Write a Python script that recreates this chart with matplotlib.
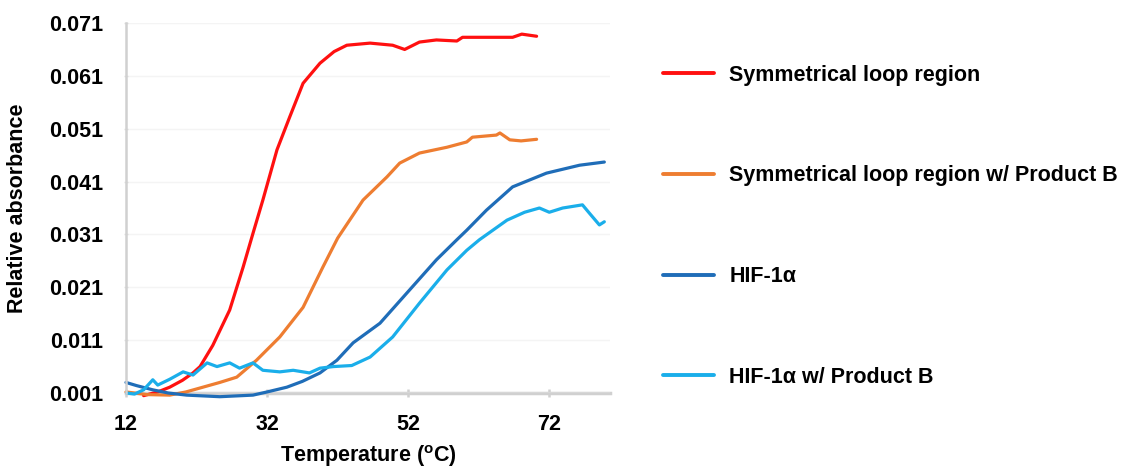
import matplotlib.pyplot as plt

plt.rcParams['font.family'] = ['Liberation Sans', 'DejaVu Sans']

# data
x_red = [14.5, 16.5, 18.2, 20.0, 21.5, 22.5, 24.3, 26.7, 28.6, 30.0, 31.4, 33.4, 35.2, 37.1,
         39.5, 41.5, 43.3, 46.6, 49.8, 51.5, 53.6, 56.0, 58.9, 59.7, 63.1, 66.8, 68.1, 70.2]
y_red = [0.0005, 0.0012, 0.0021, 0.0034, 0.0048, 0.0060, 0.0100, 0.0167, 0.0248, 0.0312,
         0.0375, 0.0470, 0.0532, 0.0596, 0.0634, 0.0656, 0.0668, 0.0672, 0.0668, 0.0660,
         0.0674, 0.0678, 0.0676, 0.0683, 0.0683, 0.0683, 0.0689, 0.0685]

x_orange = [12.0, 15.0, 18.2, 20.5, 22.9, 25.3, 27.7, 30.5, 33.8, 37.1, 39.9, 42.0,
            45.6, 49.0, 50.8, 53.6, 57.5, 60.3, 61.1, 64.5, 65.0, 66.4, 68.0, 70.2]
y_orange = [0.0012, 0.0007, 0.0006, 0.0012, 0.0021, 0.0030, 0.0040, 0.0072, 0.0116, 0.0172,
            0.0248, 0.0303, 0.0375, 0.0419, 0.0445, 0.0464, 0.0475, 0.0485, 0.0494, 0.0498,
            0.0502, 0.0489, 0.0487, 0.0490]

x_dblue = [12.0, 13.5, 15.8, 18.0, 20.6, 25.3, 30.0, 32.0, 34.8, 37.0, 39.5, 41.9,
           44.2, 48.0, 52.2, 56.0, 58.9, 60.3, 63.1, 66.8, 71.6, 76.3, 79.8]
y_dblue = [0.0030, 0.0024, 0.0016, 0.0010, 0.0006, 0.0003, 0.0006, 0.0012, 0.0021, 0.0032,
           0.0048, 0.0072, 0.0105, 0.0142, 0.0205, 0.0262, 0.0300, 0.0318, 0.0356, 0.0400,
           0.0426, 0.0441, 0.0447]

x_lblue = [12.1, 13.2, 14.5, 15.8, 16.5, 18.2, 20.1, 21.5, 23.5, 24.9, 26.7, 28.1, 30.0,
           31.4, 33.8, 35.7, 38.0, 39.5, 41.4, 44.0, 46.6, 49.8, 53.6, 57.5, 60.3, 62.1,
           64.0, 66.0, 68.5, 70.6, 72.0, 73.9, 76.7, 77.7, 79.1, 79.8]
y_lblue = [0.0010, 0.0008, 0.0016, 0.0035, 0.0025, 0.0036, 0.0050, 0.0044, 0.0067, 0.0060,
           0.0067, 0.0057, 0.0067, 0.0053, 0.0050, 0.0053, 0.0048, 0.0057, 0.0060, 0.0062,
           0.0078, 0.0116, 0.0180, 0.0243, 0.0280, 0.0300, 0.0318, 0.0337, 0.0352, 0.0360,
           0.0352, 0.0360, 0.0366, 0.0350, 0.0328, 0.0334]

labels = ['Symmetrical loop region', 'Symmetrical loop region w/ Product B',
          'HIF-1α', 'HIF-1α w/ Product B']
colors = ['#FF1010', '#EE7D31', '#1F6DB8', '#1AAEEA']
xticks = [12, 32, 52, 72]
yticks = [0.001, 0.011, 0.021, 0.031, 0.041, 0.051, 0.061, 0.071]

fig = plt.figure(figsize=(11.38, 4.71), dpi=100)
ax = fig.add_axes([0.1107, 0.1656, 0.4253, 0.7855])

series = [(x_red, y_red), (x_orange, y_orange), (x_dblue, y_dblue), (x_lblue, y_lblue)]
for (xs, ys), c, lab in zip(series, colors, labels):
    ax.plot(xs, ys, color=c, lw=2.3, label=lab, solid_capstyle='round',
            solid_joinstyle='round', clip_on=False)

ax.set_xlim(12, 80.6)
ax.set_ylim(0.001, 0.071)
ax.set_xticks(xticks)
ax.set_yticks(yticks)
ax.set_xticklabels([str(t) for t in xticks], fontsize=15.5, fontweight='bold')
ax.set_yticklabels(['%.3f' % t for t in yticks], fontsize=15.5, fontweight='bold')
ax.grid(axis='y', color='#F4F4F4', lw=1)
ax.set_axisbelow(True)

for s in ['top', 'right']:
    ax.spines[s].set_visible(False)
ax.spines['left'].set_color('#D0D0D0')
ax.spines['left'].set_linewidth(1.8)
ax.spines['bottom'].set_color('#D0D0D0')
ax.spines['bottom'].set_linewidth(2.5)
ax.spines['bottom'].set_zorder(0)
ax.tick_params(axis='x', color='#D0D0D0', width=1.8, length=6, direction='inout', pad=12)
ax.tick_params(axis='y', color='#E0E0E0', width=1, length=3, direction='inout', pad=15)

ax.set_xlabel('Temperature ($\\mathregular{^o}$C)', fontsize=15.5, fontweight='bold', labelpad=6)
ax.set_ylabel('Relative absorbance', fontsize=15.5, fontweight='bold', labelpad=15)

leg = ax.legend(loc='upper left', bbox_to_anchor=(1.109, 0.887), frameon=False,
                prop={'size': 15.5, 'weight': 'bold'}, labelspacing=3.7,
                handlelength=2.4, handletextpad=0.7, borderpad=0, borderaxespad=0)
for line in leg.get_lines():
    line.set_linewidth(2.8)

fig.savefig('out.png', dpi=100)
